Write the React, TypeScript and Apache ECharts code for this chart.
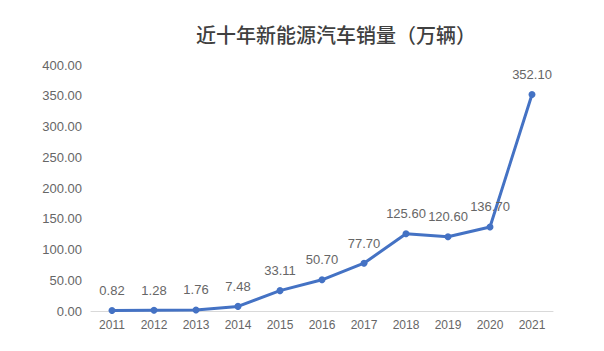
import React, { useEffect, useRef } from "react";
import * as echarts from "echarts";

const years = ["2011", "2012", "2013", "2014", "2015", "2016", "2017", "2018", "2019", "2020", "2021"];
const sales = [0.82, 1.28, 1.76, 7.48, 33.11, 50.7, 77.7, 125.6, 120.6, 136.7, 352.1];
const titleText = "近十年新能源汽车销量（万辆）";

export default function App() {
  const ref = useRef<HTMLDivElement>(null);
  useEffect(() => {
    const chart = echarts.init(ref.current!, null, { renderer: "svg" });
    chart.setOption({
      animation: false,
      backgroundColor: "#ffffff",
      title: {
        text: titleText,
        left: 191,
        top: 19,
        textStyle: {
          fontFamily: "Noto Sans CJK SC",
          fontSize: 20,
          fontWeight: 500,
          color: "#404040",
        },
      },
      grid: { left: 91, right: 51, top: 65, bottom: 40 },
      xAxis: {
        type: "category",
        data: years,
        boundaryGap: true,
        axisLine: { lineStyle: { color: "#d9d9d9", width: 1 } },
        axisTick: { show: false },
        axisLabel: { color: "#666666", fontSize: 12, fontFamily: "Liberation Sans", margin: 8 },
      },
      yAxis: {
        type: "value",
        min: 0,
        max: 400,
        interval: 50,
        splitLine: { show: false },
        axisLine: { show: false },
        axisTick: { show: false },
        axisLabel: {
          color: "#666666",
          fontSize: 13,
          fontFamily: "Liberation Sans",
          margin: 9,
          formatter: (v: number) => v.toFixed(2),
        },
      },
      series: [
        {
          type: "line",
          data: sales,
          symbol: "circle",
          symbolSize: 7,
          lineStyle: { color: "#4472C4", width: 3 },
          itemStyle: { color: "#4472C4" },
          label: {
            show: true,
            position: "top",
            distance: 10,
            color: "#666666",
            fontSize: 13,
            fontFamily: "Liberation Sans",
            formatter: (p: any) => Number(p.value).toFixed(2),
          },
        },
      ],
    });
    return () => chart.dispose();
  }, []);
  return <div ref={ref} style={{ width: 604, height: 351, position: "absolute", left: 0, top: 0 }} />;
}
